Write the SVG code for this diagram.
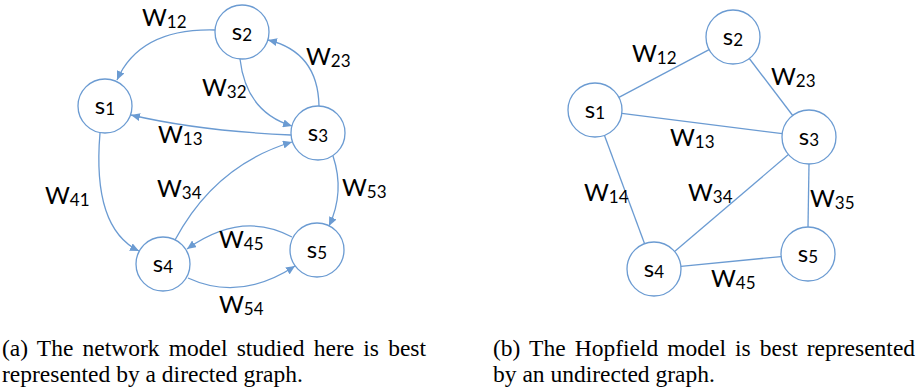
<svg xmlns="http://www.w3.org/2000/svg" width="918" height="391" viewBox="0 0 918 391">
<defs>
<style>
.node circle{fill:#fff;stroke:#6b9bd2;stroke-width:1.3}
.edge{fill:none;stroke:#6b9bd2;stroke-width:1.3}
.lbl{font-family:Lato,"Open Sans",sans-serif;font-size:24px;fill:#000}
.sub{font-size:17px}
.nl{font-family:Lato,"Open Sans",sans-serif;font-size:24px;fill:#000;text-anchor:middle}
.cap{font-family:"Liberation Serif","Times New Roman",serif;font-size:23.5px;fill:#000}
</style>
<marker id="arr" markerWidth="10" markerHeight="8" refX="9" refY="4" orient="auto" markerUnits="userSpaceOnUse">
<path d="M0,0 L9,4 L0,8 z" fill="#6b9bd2"/>
</marker>
</defs>
<rect width="918" height="391" fill="#fff"/>

<g id="connectors">
<path class="edge" marker-end="url(#arr)" d="M215,30 Q140,28 117,80"/>
<path class="edge" marker-end="url(#arr)" d="M319,106 Q318,52 268,40"/>
<path class="edge" marker-end="url(#arr)" d="M240,59 Q246,112 292,126"/>
<path class="edge" marker-end="url(#arr)" d="M291,135 Q200,131 131,115"/>
<path class="edge" marker-end="url(#arr)" d="M100,133 Q92,228 139,251"/>
<path class="edge" marker-end="url(#arr)" d="M175,240 Q215,165 292,142"/>
<path class="edge" marker-end="url(#arr)" d="M333,156 Q345,192 329,226"/>
<path class="edge" marker-end="url(#arr)" d="M292,237 Q242,210 187,249"/>
<path class="edge" marker-end="url(#arr)" d="M188,278 Q240,302 295,266"/>

<line class="edge" x1="618.9" y1="97.4" x2="709.1" y2="49.6"/>
<line class="edge" x1="749.3" y1="58.5" x2="792.7" y2="115.5"/>
<line class="edge" x1="621.8" y1="113.4" x2="782.2" y2="133.6"/>
<line class="edge" x1="604.4" y1="135.3" x2="644.6" y2="243.7"/>
<line class="edge" x1="788.4" y1="154.5" x2="674.6" y2="251.5"/>
<line class="edge" x1="809" y1="164" x2="808" y2="227"/>
<line class="edge" x1="680.9" y1="266.4" x2="781.1" y2="256.6"/>
</g>

<g id="edge-labels">
<text class="lbl" x="142" y="26">W<tspan class="sub" dy="2">12</tspan></text>
<text class="lbl" x="306" y="65">W<tspan class="sub" dy="2">23</tspan></text>
<text class="lbl" x="202" y="96">W<tspan class="sub" dy="2">32</tspan></text>
<text class="lbl" x="158" y="143">W<tspan class="sub" dy="2">13</tspan></text>
<text class="lbl" x="45" y="204">W<tspan class="sub" dy="2">41</tspan></text>
<text class="lbl" x="157" y="197">W<tspan class="sub" dy="2">34</tspan></text>
<text class="lbl" x="342" y="196">W<tspan class="sub" dy="2">53</tspan></text>
<text class="lbl" x="219" y="248">W<tspan class="sub" dy="2">45</tspan></text>
<text class="lbl" x="219" y="313">W<tspan class="sub" dy="2">54</tspan></text>

<text class="lbl" x="632" y="62">W<tspan class="sub" dy="2">12</tspan></text>
<text class="lbl" x="771" y="85">W<tspan class="sub" dy="2">23</tspan></text>
<text class="lbl" x="670" y="146">W<tspan class="sub" dy="2">13</tspan></text>
<text class="lbl" x="584" y="201">W<tspan class="sub" dy="2">14</tspan></text>
<text class="lbl" x="688" y="201">W<tspan class="sub" dy="2">34</tspan></text>
<text class="lbl" x="810" y="207">W<tspan class="sub" dy="2">35</tspan></text>
<text class="lbl" x="711" y="287">W<tspan class="sub" dy="2">45</tspan></text>
</g>

<g id="a-s1" class="node"><circle cx="105" cy="106" r="27"/><text class="nl" x="105" y="114">s<tspan class="sub" dy="1">1</tspan></text></g>
<g id="a-s2" class="node"><circle cx="242" cy="32" r="27"/><text class="nl" x="242" y="40">s<tspan class="sub" dy="1">2</tspan></text></g>
<g id="a-s3" class="node"><circle cx="318" cy="133" r="27"/><text class="nl" x="318" y="141">s<tspan class="sub" dy="1">3</tspan></text></g>
<g id="a-s4" class="node"><circle cx="163" cy="264" r="27"/><text class="nl" x="163" y="272">s<tspan class="sub" dy="1">4</tspan></text></g>
<g id="a-s5" class="node"><circle cx="317" cy="250" r="27"/><text class="nl" x="317" y="258">s<tspan class="sub" dy="1">5</tspan></text></g>

<g id="b-s1" class="node"><circle cx="595" cy="110" r="27"/><text class="nl" x="595" y="118">s<tspan class="sub" dy="1">1</tspan></text></g>
<g id="b-s2" class="node"><circle cx="733" cy="37" r="27"/><text class="nl" x="733" y="45">s<tspan class="sub" dy="1">2</tspan></text></g>
<g id="b-s3" class="node"><circle cx="809" cy="137" r="27"/><text class="nl" x="809" y="145">s<tspan class="sub" dy="1">3</tspan></text></g>
<g id="b-s4" class="node"><circle cx="654" cy="269" r="27"/><text class="nl" x="654" y="277">s<tspan class="sub" dy="1">4</tspan></text></g>
<g id="b-s5" class="node"><circle cx="808" cy="254" r="27"/><text class="nl" x="808" y="262">s<tspan class="sub" dy="1">5</tspan></text></g>

<g id="captions">
<text class="cap" x="2" y="356" word-spacing="3.3">(a) The network model studied here is best</text>
<text class="cap" x="2" y="382">represented by a directed graph.</text>
<text class="cap" x="493" y="356" word-spacing="3.2">(b) The Hopfield model is best represented</text>
<text class="cap" x="493" y="382">by an undirected graph.</text>
</g>
</svg>
